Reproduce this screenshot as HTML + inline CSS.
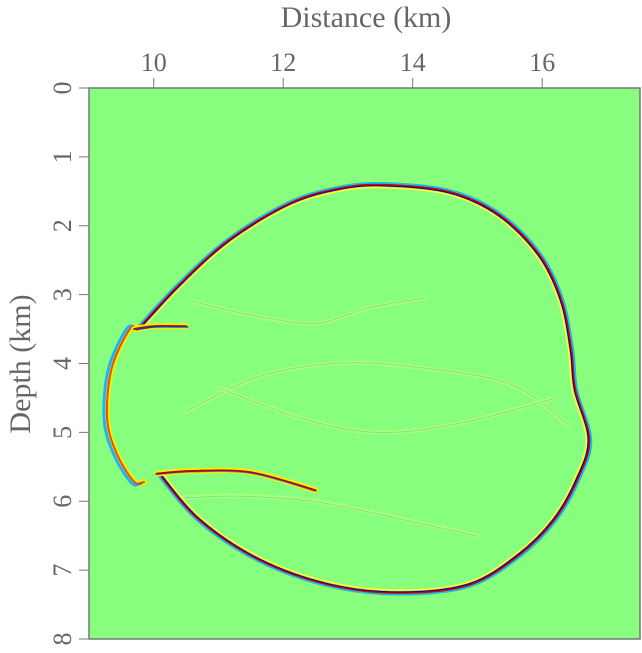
<!DOCTYPE html>
<html><head><meta charset="utf-8">
<style>
body{margin:0;background:#fff;}
svg text{font-family:"Liberation Serif",serif;fill:#666;}
</style></head>
<body>
<svg id="chart" width="642" height="648" xmlns="http://www.w3.org/2000/svg">
<rect x="89" y="88" width="551" height="551" fill="#88fe7e"/>
<g id="marks"></g>
<rect x="89" y="88" width="551" height="551" fill="none" stroke="#777" stroke-width="1.5"/>
<g id="axes"></g>
<text x="366" y="27" font-size="30" text-anchor="middle">Distance (km)</text>
<text transform="translate(30,364) rotate(-90)" font-size="30" text-anchor="middle">Depth (km)</text>
</svg>
<script>
const xTicks=[10,12,14,16];
const yTicks=[0,1,2,3,4,5,6,7,8];
const mainFrontX=[9.776,10.394,11.166,12.093,12.865,13.560,14.564,15.336,15.954,16.294,16.448,16.510,16.726,16.541,16.186,15.645,14.873,13.792,12.711,11.630,10.703,10.085];
const mainFrontZ=[3.483,2.859,2.206,1.680,1.460,1.408,1.509,1.843,2.424,3.077,3.803,4.383,5.109,5.689,6.270,6.778,7.213,7.329,7.213,6.850,6.270,5.602];
const leftArcX=[9.776,9.622,9.344,9.282,9.437,9.699,9.85];
const leftArcZ=[3.50,3.512,4.093,4.819,5.327,5.718,5.72];
const upperStreakX=[9.70,10.0,10.5];
const upperStreakZ=[3.50,3.46,3.46];
const lowerStreakX=[10.05,10.6,11.5,12.5];
const lowerStreakZ=[5.60,5.56,5.58,5.84];
const innerArc1X=[10.6,11.5,12.5,13.3,14.2];
const innerArc1Z=[3.1,3.3,3.42,3.2,3.05];
const innerArc2X=[10.5,11.6,12.8,14.0,15.5,16.4];
const innerArc2Z=[4.7,4.2,4.0,4.05,4.3,4.9];
const innerArc3X=[11.0,12.3,13.5,14.8,16.2];
const innerArc3Z=[4.35,4.8,5.0,4.85,4.5];
const innerArc4X=[10.4,11.3,12.5,13.8,15.0];
const innerArc4Z=[5.95,5.92,6.0,6.25,6.5];

const X0=9,X1=17.51,Z0=0,Z1=8,L=89,T=88,W=551,H=551;
const xs=v=>L+(v-X0)/(X1-X0)*W;
const ys=v=>T+(v-Z0)/(Z1-Z0)*H;
const NS="http://www.w3.org/2000/svg";
function pathD(ax,az,sc){
  const cx=13.2,cz=4.4;
  const p=ax.map((x,i)=>[xs(cx+(x-cx)*sc),ys(cz+(az[i]-cz)*sc)]);
  let d=`M${p[0][0]},${p[0][1]}`;
  for(let i=0;i<p.length-1;i++){
    const p0=p[Math.max(0,i-1)],p1=p[i],p2=p[i+1],p3=p[Math.min(p.length-1,i+2)];
    d+=`C${p1[0]+(p2[0]-p0[0])/6},${p1[1]+(p2[1]-p0[1])/6} ${p2[0]-(p3[0]-p1[0])/6},${p2[1]-(p3[1]-p1[1])/6} ${p2[0]},${p2[1]}`;
  }
  return d;
}
const marks=document.getElementById('marks');
function front(name,ax,az,layers){
  const g=document.createElementNS(NS,'g');
  
  
  layers.forEach(([col,w,sc,op])=>{
    const p=document.createElementNS(NS,'path');
    p.setAttribute('d',pathD(ax,az,sc));
    p.setAttribute('fill','none');
    p.setAttribute('stroke',col);
    p.setAttribute('stroke-width',w);
    p.setAttribute('opacity',op);
    p.setAttribute('stroke-linecap','round');
    
    
    g.appendChild(p);
  });
  marks.appendChild(g);
}
const strong=[['#f0f000',7,1.0,1],['#00c8ff',3.5,1.006,1],['#d00000',2.2,1.0,1],['#0000a0',1.5,0.994,1],['#ffff40',2,0.988,0.8]];
const faint=[['#c0ff70',4,1,0.7],['#50d0b0',1,1.004,0.6]];
front('interior-arc-1',innerArc1X,innerArc1Z,faint);
front('interior-arc-2',innerArc2X,innerArc2Z,faint);
front('interior-arc-3',innerArc3X,innerArc3Z,faint);
front('interior-arc-4',innerArc4X,innerArc4Z,faint);
front('main-wavefront',mainFrontX,mainFrontZ,strong);
front('left-arc',leftArcX,leftArcZ,[['#f0f000',6,1,1],['#20b0ff',3,1.012,1],['#e04000',2,1.0,0.9]]);
front('upper-streak',upperStreakX,upperStreakZ,[['#f0f000',6,1,1],['#d00000',2.2,1,1],['#0040c0',1.4,0.99,1]]);
front('lower-streak',lowerStreakX,lowerStreakZ,[['#f0f000',6,1,1],['#20a0ff',2.5,1.004,1],['#c00000',1.8,1,1]]);

const axes=document.getElementById('axes');
xTicks.forEach(v=>{
  const l=document.createElementNS(NS,'line');
  l.setAttribute('x1',xs(v));l.setAttribute('x2',xs(v));l.setAttribute('y1',T-10);l.setAttribute('y2',T);
  l.setAttribute('stroke','#777');
  
  
  axes.appendChild(l);
  const t=document.createElementNS(NS,'text');
  t.setAttribute('x',xs(v));t.setAttribute('y',T-17);t.setAttribute('font-size','26');t.setAttribute('text-anchor','middle');
  t.textContent=v;
  
  
  axes.appendChild(t);
});
yTicks.forEach(v=>{
  const l=document.createElementNS(NS,'line');
  l.setAttribute('y1',ys(v));l.setAttribute('y2',ys(v));l.setAttribute('x1',L-10);l.setAttribute('x2',L);
  l.setAttribute('stroke','#777');
  
  
  axes.appendChild(l);
  const t=document.createElementNS(NS,'text');
  t.setAttribute('transform',`translate(${L-18},${ys(v)}) rotate(-90)`);
  t.setAttribute('font-size','26');t.setAttribute('text-anchor','middle');
  t.textContent=v;
  
  
  axes.appendChild(t);
});
</script>
</body></html>
